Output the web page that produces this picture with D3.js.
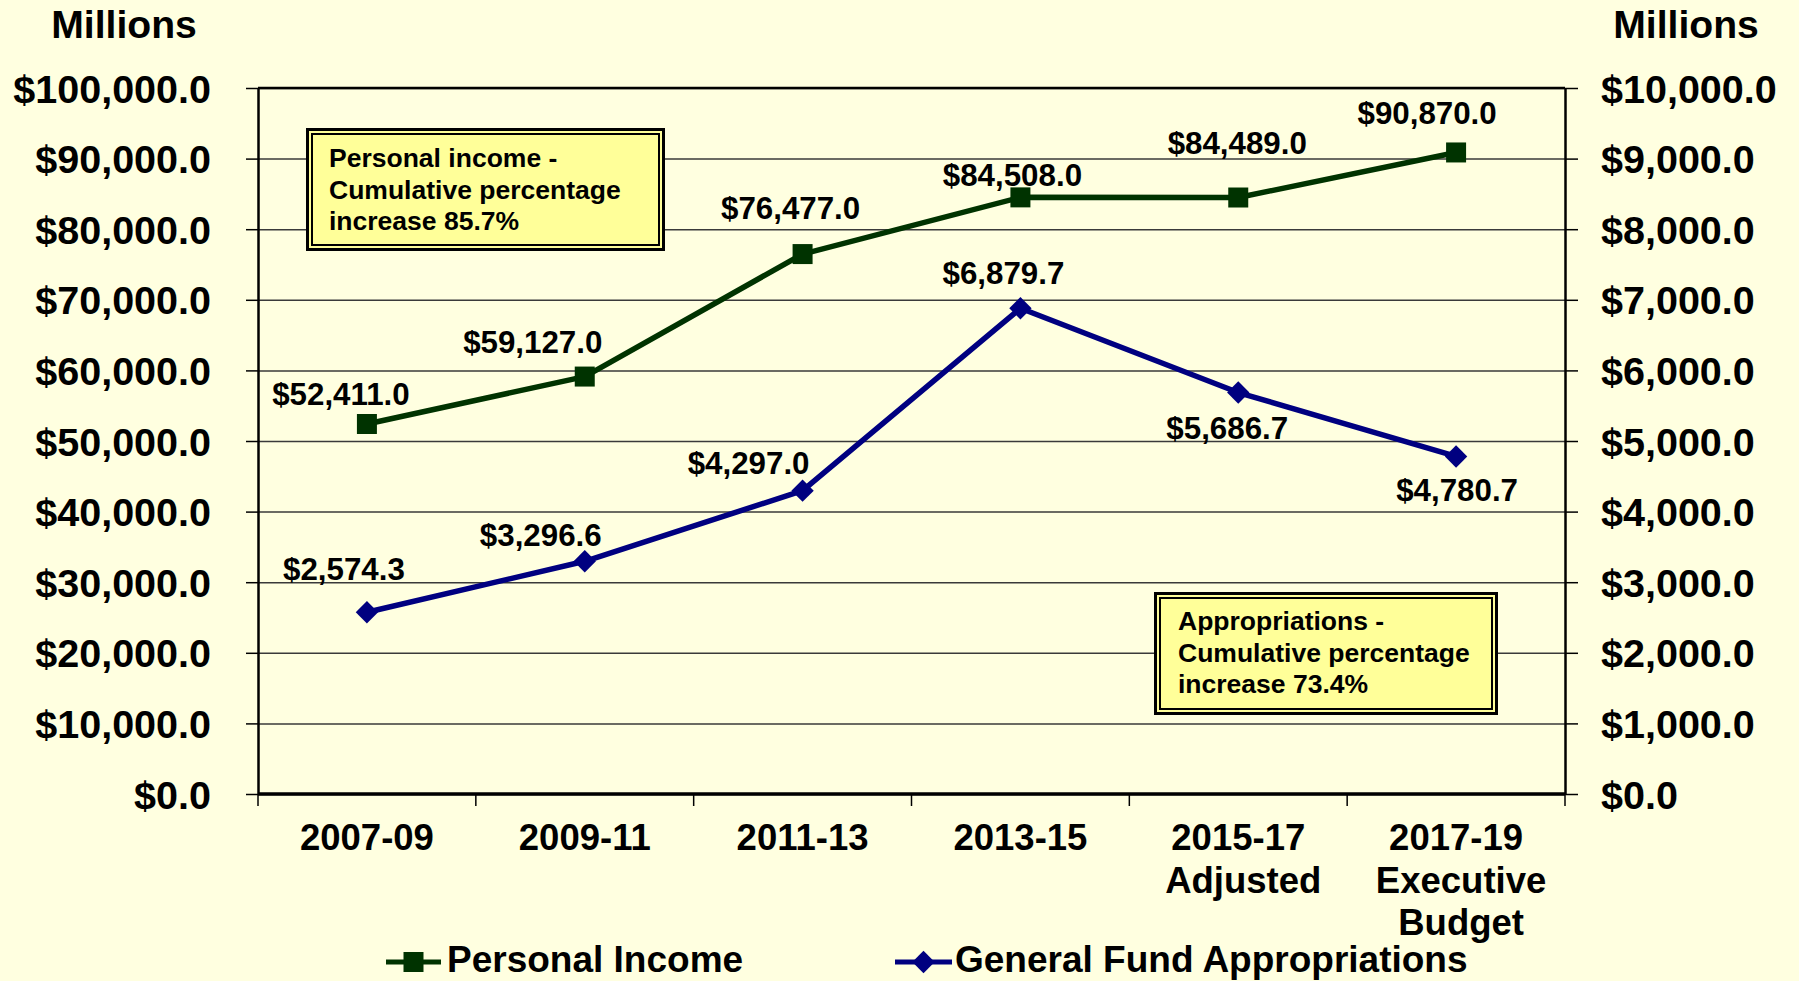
<!DOCTYPE html>
<html>
<head>
<meta charset="utf-8">
<script src="https://cdn.jsdelivr.net/npm/d3@7"></script>
<style>
  body { margin: 0; background: #ffffe0; }
  svg { display: block; font-family: "Liberation Sans", Arial, sans-serif; font-weight: bold; }
</style>
</head>
<body>
<div class="chart"></div>
<script>
// biennium categories and the two series (millions of dollars)
const periods = ["2007-09", "2009-11", "2011-13", "2013-15", "2015-17", "2017-19"];
const periodLines = [["2007-09"], ["2009-11"], ["2011-13"], ["2013-15"], ["2015-17", "Adjusted"], ["2017-19", "Executive", "Budget"]];
const personalIncome = [52411.0, 59127.0, 76477.0, 84508.0, 84489.0, 90870.0];
const appropriations = [2574.3, 3296.6, 4297.0, 6879.7, 5686.7, 4780.7];
const leftTicks = [0, 10000, 20000, 30000, 40000, 50000, 60000, 70000, 80000, 90000, 100000];
const rightTicks = [0, 1000, 2000, 3000, 4000, 5000, 6000, 7000, 8000, 9000, 10000];
const seriesNames = ["Personal Income", "General Fund Appropriations"];
const noteIncome = ["Personal income -", "Cumulative percentage", "increase 85.7%"];
const noteAppr = ["Appropriations -", "Cumulative percentage", "increase 73.4%"];

// where the value labels sit relative to their point (center x, baseline y)
const incomeLabelOffsets = [[-26, -19], [-52, -24], [-12, -35], [-8, -11], [-1, -44], [-29, -28]];
const apprLabelOffsets = [[-23, -32], [-44, -15], [-54, -17], [-17, -24], [-11, 46], [1, 45]];

const width = 1799;
const height = 981;
const plot = { left: 258, right: 1565, top: 88, bottom: 794 };
const green = "#003300";
const navy = "#000080";

const svg = d3.select(".chart")
    .append("svg")
    .attr("width", width)
    .attr("height", height);

svg.append("rect").attr("width", width).attr("height", height).attr("fill", "#ffffe0");

const x = d3.scaleBand().domain(periods).range([plot.left, plot.right]);
const yLeft = d3.scaleLinear().domain([0, 100000]).range([plot.bottom, plot.top]);
const yRight = d3.scaleLinear().domain([0, 10000]).range([plot.bottom, plot.top]);
const cx = p => x(p) + x.bandwidth() / 2;
const money = d => "$" + d3.format(",.1f")(d);

// place a text with a slight horizontal stretch
function stretch(sel, px, py, sx) {
    sel.attr("x", 0).attr("y", 0).attr("transform", "translate(" + px + "," + py + ") scale(" + sx + ",1)");
}

// gridlines
svg.append("g")
    .attr("transform", "translate(" + plot.left + ",0)")
    .call(d3.axisLeft(yLeft).tickValues(leftTicks).tickSize(-(plot.right - plot.left)).tickFormat(""))
    .call(g => g.select(".domain").remove())
    .call(g => g.selectAll("line").attr("stroke", "#3a3a3a").attr("stroke-width", 1.5));

// left axis
const leftAxis = svg.append("g")
    .attr("transform", "translate(" + plot.left + ",0)")
    .call(d3.axisLeft(yLeft).tickValues(leftTicks).tickSize(12).tickSizeOuter(0).tickFormat(money));
leftAxis.select(".domain").attr("stroke", "#000").attr("stroke-width", 2.5);
leftAxis.selectAll(".tick line").attr("stroke", "#000").attr("stroke-width", 1.5);
leftAxis.selectAll(".tick text")
    .attr("fill", "#000")
    .attr("font-size", 38)
    .attr("text-anchor", "end")
    .attr("dy", "0.37em")
    .each(function () { stretch(d3.select(this), -47, 0, 1.04); });

// right axis
const rightAxis = svg.append("g")
    .attr("transform", "translate(" + plot.right + ",0)")
    .call(d3.axisRight(yRight).tickValues(rightTicks).tickSize(13).tickSizeOuter(0).tickFormat(money));
rightAxis.select(".domain").attr("stroke", "#000").attr("stroke-width", 2.5);
rightAxis.selectAll(".tick line").attr("stroke", "#000").attr("stroke-width", 1.5);
rightAxis.selectAll(".tick text")
    .attr("fill", "#000")
    .attr("font-size", 38)
    .attr("text-anchor", "start")
    .attr("dy", "0.37em")
    .each(function () { stretch(d3.select(this), 36, 0, 1.04); });

// top border and bottom axis line
svg.append("line")
    .attr("x1", plot.left).attr("x2", plot.right)
    .attr("y1", plot.top).attr("y2", plot.top)
    .attr("stroke", "#000").attr("stroke-width", 2.5);
svg.append("line")
    .attr("x1", plot.left).attr("x2", plot.right)
    .attr("y1", plot.bottom).attr("y2", plot.bottom)
    .attr("stroke", "#000").attr("stroke-width", 3.5);

// category boundary ticks under the plot
svg.selectAll(".xtick")
    .data(periods.map(p => x(p)).concat([plot.right]))
    .enter()
    .append("line")
    .attr("class", "xtick")
    .attr("x1", d => d).attr("x2", d => d)
    .attr("y1", plot.bottom).attr("y2", plot.bottom + 12)
    .attr("stroke", "#000").attr("stroke-width", 1.5);

// category labels
periods.forEach((p, i) => {
    periodLines[i].forEach((line, j) => {
        svg.append("text")
            .text(line)
            .attr("font-size", 36.5)
            .attr("text-anchor", "middle")
            .attr("fill", "#000")
            .call(stretch, cx(p) + (j > 0 ? 5 : 0), 850 + j * 42.5, 1.0);
    });
});

// axis titles
svg.append("text").text("Millions").attr("font-size", 38).attr("text-anchor", "middle").call(stretch, 124, 38, 1.03);
svg.append("text").text("Millions").attr("font-size", 38).attr("text-anchor", "middle").call(stretch, 1686, 38, 1.03);

// note boxes
function noteBox(x0, y0, w, h, lines, textX, firstBase) {
    const g = svg.append("g");
    g.append("rect")
        .attr("x", x0 + 1.5).attr("y", y0 + 1.5)
        .attr("width", w - 3).attr("height", h - 3)
        .attr("fill", "#ffff99").attr("stroke", "#000").attr("stroke-width", 3);
    g.append("rect")
        .attr("x", x0 + 6).attr("y", y0 + 6)
        .attr("width", w - 12).attr("height", h - 12)
        .attr("fill", "none").attr("stroke", "#000").attr("stroke-width", 2);
    lines.forEach((line, i) => {
        g.append("text")
            .text(line)
            .attr("font-size", 26)
            .attr("fill", "#000")
            .call(stretch, textX, firstBase + i * 31.5, 1.02);
    });
}
noteBox(306, 128, 359, 123, noteIncome, 329, 167);
noteBox(1154, 592, 344, 123, noteAppr, 1178, 630);

// lines
const incomeLine = d3.line().x((d, i) => cx(periods[i])).y(d => yLeft(d));
const apprLine = d3.line().x((d, i) => cx(periods[i])).y(d => yRight(d));

svg.append("path")
    .datum(personalIncome)
    .attr("d", incomeLine)
    .attr("fill", "none").attr("stroke", green).attr("stroke-width", 5.5).attr("stroke-linejoin", "round");

svg.append("path")
    .datum(appropriations)
    .attr("d", apprLine)
    .attr("fill", "none").attr("stroke", navy).attr("stroke-width", 5.5).attr("stroke-linejoin", "round");

// markers
const square = d3.symbol(d3.symbolSquare, 400);
const diamond = d3.symbol(d3.symbolSquare, 250);

svg.selectAll(".pi-mark")
    .data(personalIncome)
    .enter()
    .append("path")
    .attr("class", "pi-mark")
    .attr("d", square)
    .attr("transform", (d, i) => "translate(" + cx(periods[i]) + "," + yLeft(d) + ")")
    .attr("fill", green);

svg.selectAll(".ap-mark")
    .data(appropriations)
    .enter()
    .append("path")
    .attr("class", "ap-mark")
    .attr("d", diamond)
    .attr("transform", (d, i) => "translate(" + cx(periods[i]) + "," + yRight(d) + ") rotate(45)")
    .attr("fill", navy);

// value labels
personalIncome.forEach((d, i) => {
    svg.append("text")
        .text(money(d))
        .attr("font-size", 31)
        .attr("text-anchor", "middle")
        .attr("fill", "#000")
        .call(stretch, cx(periods[i]) + incomeLabelOffsets[i][0], yLeft(d) + incomeLabelOffsets[i][1], 1.01);
});
appropriations.forEach((d, i) => {
    svg.append("text")
        .text(money(d))
        .attr("font-size", 31)
        .attr("text-anchor", "middle")
        .attr("fill", "#000")
        .call(stretch, cx(periods[i]) + apprLabelOffsets[i][0], yRight(d) + apprLabelOffsets[i][1], 1.01);
});

// legend
const legend = [
    { name: seriesNames[0], color: green, x1: 386, x2: 441, mark: square, rot: 0, tx: 447 },
    { name: seriesNames[1], color: navy, x1: 895, x2: 952, mark: diamond, rot: 45, tx: 955 }
];
legend.forEach(l => {
    svg.append("line")
        .attr("x1", l.x1).attr("x2", l.x2)
        .attr("y1", 962).attr("y2", 962)
        .attr("stroke", l.color).attr("stroke-width", 5);
    svg.append("path")
        .attr("d", l.mark)
        .attr("transform", "translate(" + (l.x1 + l.x2) / 2 + ",962) rotate(" + l.rot + ")")
        .attr("fill", l.color);
    svg.append("text")
        .text(l.name)
        .attr("font-size", 37)
        .attr("fill", "#000")
        .call(stretch, l.tx, 972, 1.0);
});
</script>
</body>
</html>
